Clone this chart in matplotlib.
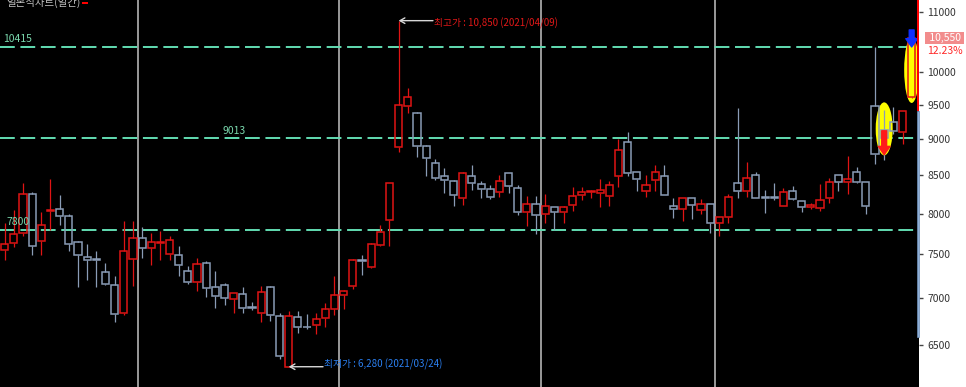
#- Candle chart (daily) with level lines, high/low marks and signal arrows.

import numpy as np
import matplotlib.pyplot as plt
import matplotlib.transforms as mtransforms
from matplotlib.patches import Ellipse, Rectangle
from matplotlib.ticker import FixedLocator, NullLocator, FuncFormatter

plt.rcParams['font.family'] = ['Noto Sans CJK KR', 'DejaVu Sans']


#- Data: daily OHLC, oldest first.

opens = [7547, 7635, 7756, 8249, 7655, 8030, 8063, 7967, 7647, 7468,
         7440, 7289, 7141, 6836, 7448, 7695, 7575, 7640, 7503, 7487,
         7300, 7174, 7397, 7123, 7141, 6992, 7044, 6895, 6836, 7123,
         6808, 6280, 6790, 6690, 6712, 6779, 6880, 7033, 7130, 7430,
         7350, 7615, 7921, 8892, 9474, 9374, 8902, 8662, 8495, 8420,
         8201, 8495, 8380, 8314, 8279, 8527, 8335, 8013, 8120, 7988,
         8077, 8018, 8107, 8244, 8275, 8262, 8227, 8491, 8954, 8549,
         8296, 8437, 8486, 8098, 8056, 8197, 8047, 8120, 7880, 7955,
         8393, 8296, 8500, 8200, 8200, 8098, 8292, 8162, 8082, 8069,
         8197, 8500, 8415, 8549, 8415, 9484, 9130, 9241, 9093, 9615]
highs = [7884, 8047, 8393, 8279, 8013, 8446, 8240, 7990, 7660, 7627,
         7535, 7397, 7243, 7900, 7900, 7830, 7756, 7776, 7720, 7603,
         7358, 7456, 7425, 7300, 7168, 7055, 7118, 6955, 7130, 7130,
         6836, 6855, 6855, 6829, 6836, 6944, 7251, 7093, 7448, 7495,
         7635, 7850, 8393, 10850, 9752, 9392, 8916, 8722, 8594, 8437,
         8544, 8639, 8424, 8371, 8500, 8527, 8371, 8227, 8227, 8249,
         8077, 8098, 8348, 8348, 8305, 8446, 8428, 8997, 9097, 8549,
         8500, 8639, 8639, 8197, 8197, 8197, 8180, 8120, 7955, 8249,
         9448, 8685, 8540, 8305, 8393, 8335, 8360, 8162, 8133, 8384,
         8460, 8500, 8762, 8608, 8415, 10415, 9422, 9462, 9407, 10550]
lows = [7428, 7590, 7715, 7487, 7487, 7797, 7859, 7535, 7123, 7197,
        7123, 7140, 6737, 6818, 7130, 7456, 7378, 7436, 7428, 7243,
        7155, 7074, 7006, 6890, 6925, 6836, 6836, 6865, 6737, 6748,
        6358, 6280, 6626, 6666, 6612, 6690, 6818, 6880, 7100, 7262,
        7343, 7600, 7594, 8822, 9378, 8753, 8495, 8440, 8262, 8098,
        8107, 8305, 8197, 8184, 8210, 8270, 7984, 7846, 7748, 7880,
        7797, 7880, 8026, 8175, 8197, 8082, 8090, 8348, 8491, 8292,
        8214, 8296, 8244, 7942, 7912, 7930, 7993, 7756, 7715, 7880,
        8197, 8210, 8197, 8005, 8175, 8090, 8175, 8013, 8056, 8026,
        8133, 8296, 8253, 8393, 7993, 8653, 8708, 9070, 8930, 9600]
closes = [7627, 7745, 8249, 7594, 7859, 8050, 7963, 7623, 7491, 7436,
          7436, 7156, 6825, 7543, 7695, 7575, 7647, 7645, 7667, 7378,
          7179, 7385, 7112, 7017, 7000, 7055, 6890, 6890, 7066, 6810,
          6391, 6800, 6682, 6682, 6776, 6880, 7033, 7074, 7436, 7425,
          7623, 7764, 8393, 9490, 9613, 8902, 8730, 8459, 8437, 8240,
          8531, 8393, 8314, 8210, 8428, 8358, 8022, 8120, 7975, 8090,
          8018, 8077, 8223, 8279, 8280, 8305, 8366, 8842, 8527, 8446,
          8366, 8540, 8244, 8056, 8197, 8111, 8124, 7880, 7955, 8218,
          8296, 8460, 8197, 8197, 8194, 8275, 8188, 8077, 8103, 8175,
          8406, 8415, 8450, 8402, 8090, 8791, 9013, 9120, 9407, 10550]

level_values = [10415, 9013, 7800]
month_starts = [15, 37, 59, 78]

high_idx, high_val, high_date = 43, 10850, '2021/04/09'
low_idx, low_val, low_date = 31, 6280, '2021/03/24'

last_price = 10550
last_change = 12.23
prev_close = 9400
range_low = 6580

signal_idx = [96, 99]
signal_from = [9117, 10692]
signal_to = [8779, 10408]
signal_colors = ['#ff1a1a', '#1030ff']
mark_center = [9145, 10037]
mark_size = [(0.17, 0.53), (0.15, 0.66)]

y_ticks = [6500, 7000, 7500, 8000, 8500, 9000, 9500, 10000, 11000]


#- Figure setup:

fig = plt.figure(figsize=(9.66, 3.87), dpi=100, facecolor='white')
ax = fig.add_axes([0, 0, 919 / 966, 1])
ax.set_facecolor('black')
for s in ax.spines.values():
    s.set_visible(False)

o = np.array(opens, float)
h = np.array(highs, float)
l = np.array(lows, float)
c = np.array(closes, float)
idx = np.arange(len(o))

up_color = '#e01414'
dn_color = '#8a9cb6'
cols = np.where(c >= o, up_color, dn_color)

top = np.maximum(o, c)
bot = np.minimum(o, c)
body = np.maximum(top - bot, bot * 0.0015)

#- Candles: wicks split so bodies stay hollow.
ax.vlines(idx, top, h, colors=cols, lw=0.9, zorder=2)
ax.vlines(idx, l, bot, colors=cols, lw=0.9, zorder=2)
ax.bar(idx, body, 0.78, bottom=bot, facecolor='none', edgecolor=cols,
       lw=1.1, zorder=3)

#- Month separators and level lines:
for m in month_starts:
    ax.axvline(m - 0.5, color='#b4b4b4', lw=1.2, zorder=1)

lab_x = [-0.2, 23.8, 0.25]
for v, lx in zip(level_values, lab_x):
    ax.axhline(v, color='#62dcb2', lw=1.4, dashes=(7.6, 2.9), zorder=1.2)
    ax.annotate(f'{v}', xy=(lx, v), xytext=(0, 1.5), textcoords='offset points',
                ha='left', va='bottom', color='#7ad8ad', fontsize=7.5)

#- Highlight ellipses and signal arrows:
for i, yc, (w, hh) in zip(signal_idx, mark_center, mark_size):
    tr = fig.dpi_scale_trans + mtransforms.ScaledTranslation(i, yc, ax.transData)
    ax.add_patch(Ellipse((0, 0), w, hh, transform=tr, facecolor='#ffff00',
                         edgecolor='none', zorder=1.5))

for i, y0, y1, col in zip(signal_idx, signal_from, signal_to, signal_colors):
    ax.annotate('', xy=(i, y1), xytext=(i, y0),
                arrowprops=dict(arrowstyle='simple,head_length=0.6,head_width=0.85,tail_width=0.35',
                                color=col, shrinkA=0, shrinkB=0),
                zorder=6)

#- High / low annotations:
ax.annotate('', xy=(high_idx, high_val), xytext=(high_idx + 3.75, high_val),
            arrowprops=dict(arrowstyle='->,head_length=0.35,head_width=0.2',
                            color='#d8d8d8', lw=1, shrinkA=0, shrinkB=0))
ax.annotate(f'최고가 : {high_val:,} ({high_date})', xy=(high_idx + 3.75, high_val),
            xytext=(1, -2), textcoords='offset points', ha='left', va='center',
            color='#e01818', fontsize=7)
ax.annotate('', xy=(low_idx, low_val), xytext=(low_idx + 3.75, low_val),
            arrowprops=dict(arrowstyle='->,head_length=0.35,head_width=0.2',
                            color='#d8d8d8', lw=1, shrinkA=0, shrinkB=0))
ax.annotate(f'최저가 : {low_val:,} ({low_date})', xy=(low_idx + 3.75, low_val),
            xytext=(1, 2), textcoords='offset points', ha='left', va='center',
            color='#2a7ff0', fontsize=7)

#- Axes scales and ticks:
ax.set_yscale('log')
ax.set_xlim(-0.51, 99.8)
ax.set_ylim(6082, 11210)
ax.set_xticks([])
ax.yaxis.tick_right()
ax.yaxis.set_major_locator(FixedLocator(y_ticks))
ax.yaxis.set_minor_locator(NullLocator())
ax.yaxis.set_major_formatter(FuncFormatter(lambda v, p: f'{v:.0f}'))
ax.tick_params(axis='y', length=3, width=1, color='#444444', labelcolor='#333333',
               labelsize=7.5, pad=3)

#- Right edge change bar (red above previous close, blue below):
bt = mtransforms.blended_transform_factory(ax.transAxes, ax.transData)
ax.add_patch(Rectangle((0.9973, prev_close), 0.0027, ax.get_ylim()[1] - prev_close,
                       transform=bt, facecolor='#ff0000', edgecolor='none',
                       clip_on=False, zorder=7))
ax.add_patch(Rectangle((0.9973, range_low), 0.0027, prev_close - range_low,
                       transform=bt, facecolor='#8fb0d8', edgecolor='#6f8fb8',
                       lw=0.5, clip_on=False, zorder=7))

#- Current price label:
ax.annotate(f' {last_price:,} ', xy=(1.0, last_price), xycoords=('axes fraction', 'data'),
            xytext=(18.5, 0.5), textcoords='offset points', ha='center', va='center',
            color='white', fontsize=7.5, annotation_clip=False, zorder=8,
            bbox=dict(boxstyle='square,pad=0.1', facecolor='#f28c8c', edgecolor='none'))
ax.annotate(f'{last_change:.2f}%', xy=(1.0, last_price), xycoords=('axes fraction', 'data'),
            xytext=(19, -9), textcoords='offset points', ha='center', va='center',
            color='#ff2a2a', fontsize=7.5, annotation_clip=False, zorder=8)

#- Title (partly cut at the top):
fig.text(6 / 966, 1 - 8 / 387, '일본식차트(일간)', ha='left', va='bottom',
         color='#c4c4c4', fontsize=7.5)
fig.patches.append(Rectangle((82 / 966, 1 - 4 / 387), 6 / 966, 2.3 / 387,
                             transform=fig.transFigure, facecolor='#ff0000',
                             edgecolor='none'))

plt.savefig('out.png', dpi=100)
